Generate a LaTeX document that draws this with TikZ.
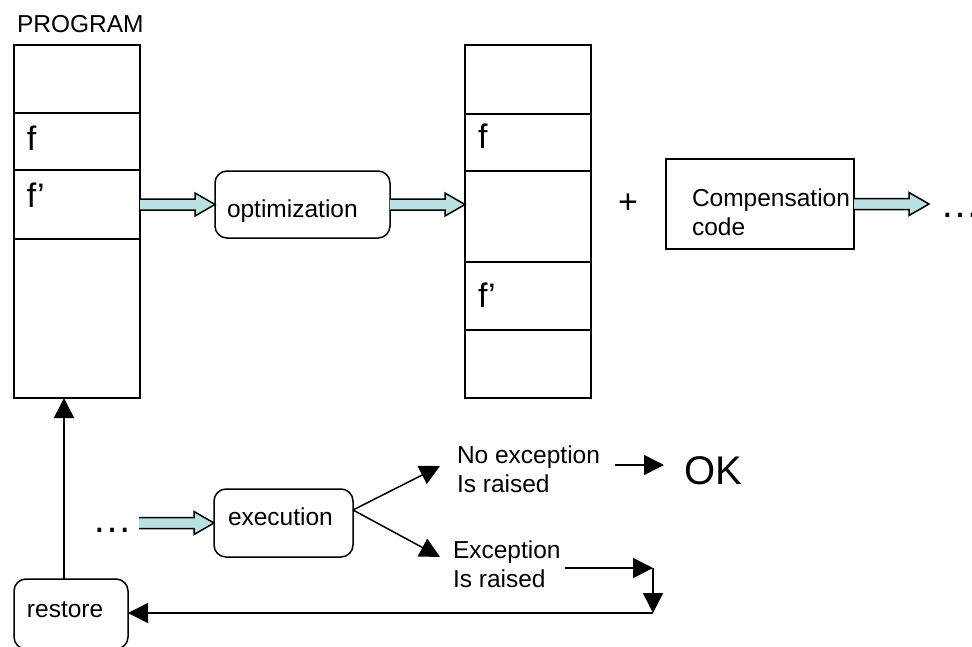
\documentclass[tikz,border=0pt]{standalone}
\usepackage{fontspec}
\setmainfont{Liberation Sans}
\usetikzlibrary{arrows.meta,calc}
\definecolor{arrowblue}{RGB}{187,224,227}
\tikzset{
  every node/.style={font=\fontsize{24.5pt}{28.5pt}\selectfont, inner sep=0pt, outer sep=0pt},
  cell/.style={draw, line width=1.5pt, minimum width=126pt, anchor=north west},
  rbox/.style={draw, line width=1.5pt, rounded corners=12pt, anchor=north west},
  sbox/.style={draw, line width=1.5pt, anchor=north west},
  txt/.style={anchor=base west, align=left},
  big/.style={anchor=base west, font=\fontsize{34pt}{40pt}\selectfont},
  huge/.style={anchor=base west, font=\fontsize{40pt}{46pt}\selectfont},
  fatline/.style={draw=black, fill=arrowblue, line width=1.5pt, line join=miter},
  conn/.style={line width=1.5pt, -{Triangle[length=20pt,width=20pt]}}
}
% thick outlined arrow running horizontally from #1 to the x of #2
\newcommand{\fatarrow}[2]{%
  \path[fatline] let \p1=(#1), \p2=(#2) in
    (\x1,\y1+5.5pt) -- (\x2-20pt,\y1+5.5pt) -- (\x2-20pt,\y1+11.5pt) --
    (\x2,\y1) -- (\x2-20pt,\y1-11.5pt) -- (\x2-20pt,\y1-5.5pt) -- (\x1,\y1-5.5pt);}
\begin{document}
\begin{tikzpicture}[x=1pt,y=-1pt]
\useasboundingbox (0,0) rectangle (972,646);

% program before optimization
\node[txt] (prog) at (17,32) {PROGRAM};
\node[cell, minimum height=68pt] (L1) at (14,45) {};
\node[cell, minimum height=57pt] (L2) at (14,113) {};
\node[cell, minimum height=69pt] (L3) at (14,170) {};
\node[cell, minimum height=159pt] (L4) at (14,239) {};
\node[big] (Lf) at (27,150) {f};
\node[big] (Lfp) at (27,207) {f’};

% optimization step
\node[rbox, minimum width=175pt, minimum height=67pt] (opt) at (215,171) {};
\node[txt] (optt) at (227,217) {optimization};

% program after optimization
\node[cell, minimum height=69pt] (R1) at (465,45) {};
\node[cell, minimum height=57pt] (R2) at (465,114) {};
\node[cell, minimum height=91pt] (R3) at (465,171) {};
\node[cell, minimum height=68pt] (R4) at (465,262) {};
\node[cell, minimum height=68pt] (R5) at (465,330) {};
\node[big] (Rf) at (478,148) {f};
\node[big] (Rfp) at (478,307) {f’};

% compensation code (anchor = baseline of the last line)
\node[big, anchor=base] (plus) at (628,213) {+};
\node[sbox, minimum width=188pt, minimum height=90pt] (comp) at (666,159) {};
\node[txt] (compt) at (692,235) {Compensation\\code};
\coordinate (more) at (929,204);
\node[huge] (dots1) at (940,217) {…};

\fatarrow{L3.east}{opt.west}
\fatarrow{opt.east}{R3.west}
\fatarrow{comp.east}{more}

% execution and its outcomes
\node[huge] (dots2) at (92,532) {…};
\coordinate (run) at (139,523);
\node[rbox, minimum width=139pt, minimum height=68pt] (exec) at (214,489) {};
\node[txt] (exect) at (228,525) {execution};
\fatarrow{run}{exec.west}

\node[txt] (noex) at (457,492) {No exception\\Is raised};
\node[txt] (ex) at (453,587) {Exception\\Is raised};
\node[huge] (ok) at (684,484) {OK};

\coordinate (fork) at ($(exec.east)+(0,-13)$);
\coordinate (noexin) at (440,466);
\coordinate (exin) at (440,557);
\draw[conn] (fork) -- (noexin);
\draw[conn] (fork) -- (exin);

\coordinate (okfrom) at (615,465);
\coordinate (okto) at (664,465);
\draw[conn] (okfrom) -- (okto);

\coordinate (exfrom) at (565,568);
\coordinate (excorner) at (653,568);
\coordinate (exdown) at (653,613);
\draw[conn] (exfrom) -- (excorner);
\draw[conn] (excorner) -- (exdown);

% restore path back to the program
\node[rbox, minimum width=114pt, minimum height=70pt] (restore) at (14,579) {};
\node[txt] (restt) at (27,617) {restore};
\coordinate (back) at ($(restore.north)+(-7,0)$);
\draw[conn] (exdown) -- (restore.east |- exdown);
\draw[conn] (back) -- (back |- L4.south);
\end{tikzpicture}
\end{document}
